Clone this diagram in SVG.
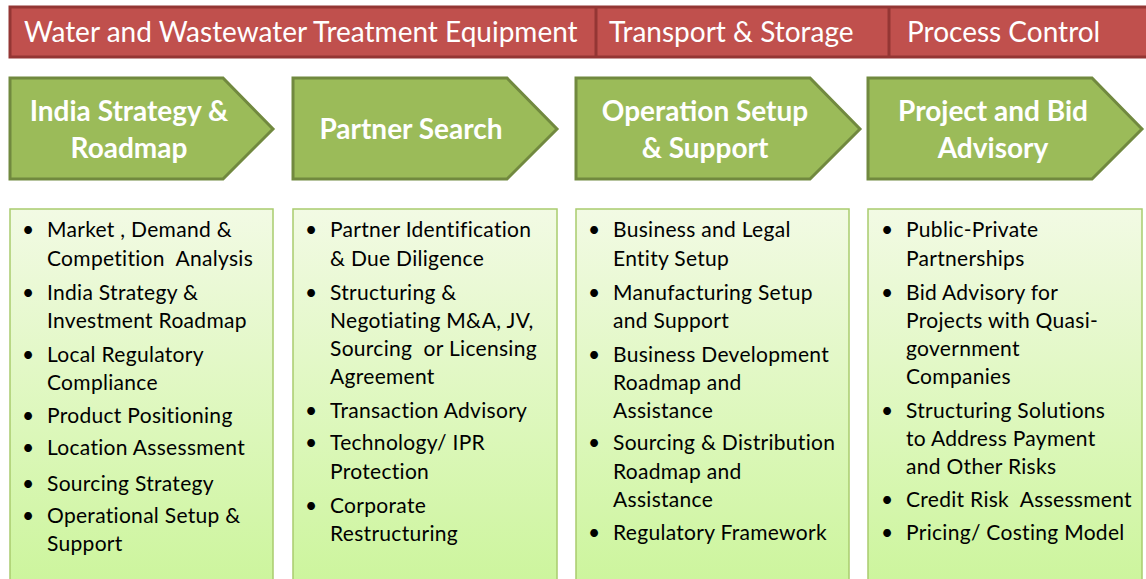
<svg xmlns="http://www.w3.org/2000/svg" width="1146" height="579" viewBox="0 0 1146 579">
<defs>
<linearGradient id="boxg" x1="0" y1="0" x2="0" y2="1">
<stop offset="0" stop-color="#F2FAE4"/>
<stop offset="1" stop-color="#CCF59C"/>
</linearGradient>
</defs>
<style>
text{white-space:pre}
.bar{fill:#C0504D;stroke:#943634;stroke-width:3}
.bt{font-family:Lato,"Liberation Sans",sans-serif;font-size:28px;fill:#fff}
.arr{fill:#9BBB59;stroke:#71893F;stroke-width:3;stroke-linejoin:miter}
.at{font-family:Lato,"Liberation Sans",sans-serif;font-size:28px;font-weight:bold;fill:#fff;text-anchor:middle}
.box{fill:url(#boxg);stroke:#A9CC6E;stroke-width:1.5}
.lt{font-family:Lato,"Liberation Sans",sans-serif;font-size:21px;letter-spacing:0.3px;fill:#000}
</style>
<g id="topbar">
<rect class="bar" x="10" y="7" width="1140" height="50"/>
<line x1="596" y1="7" x2="596" y2="57" stroke="#943634" stroke-width="3"/>
<line x1="889" y1="7" x2="889" y2="57" stroke="#943634" stroke-width="3"/>
<text class="bt" x="24" y="42">Water and Wastewater Treatment Equipment</text>
<text class="bt" x="609" y="42">Transport &amp; Storage</text>
<text class="bt" x="907" y="42">Process Control</text>
</g>
<g id="step1">
<path class="arr" d="M10,78 H223 L273,129 L223,179 H10 Z"/>
<text class="at" x="129" y="121">India Strategy &amp;</text>
<text class="at" x="129" y="158">Roadmap</text>
</g>
<g id="step2">
<path class="arr" d="M293,78 H507 L557,129 L507,179 H293 Z"/>
<text class="at" x="411" y="139">Partner Search</text>
</g>
<g id="step3">
<path class="arr" d="M576,78 H810 L860,129 L810,179 H576 Z"/>
<text class="at" x="705" y="121">Operation Setup</text>
<text class="at" x="705" y="158">&amp; Support</text>
</g>
<g id="step4">
<path class="arr" d="M868,78 H1092 L1142,129 L1092,179 H868 Z"/>
<text class="at" x="993" y="121">Project and Bid</text>
<text class="at" x="993" y="158">Advisory</text>
</g>
<g id="list1">
<rect class="box" x="10" y="209" width="263" height="380"/>
<g class="lt">
<text x="22" y="237">•</text><text x="47" y="237">Market , Demand &amp;</text>
<text x="47" y="266">Competition  Analysis</text>
<text x="22" y="300">•</text><text x="47" y="300">India Strategy &amp;</text>
<text x="47" y="328">Investment Roadmap</text>
<text x="22" y="362">•</text><text x="47" y="362">Local Regulatory</text>
<text x="47" y="390">Compliance</text>
<text x="22" y="423">•</text><text x="47" y="423">Product Positioning</text>
<text x="22" y="455">•</text><text x="47" y="455">Location Assessment</text>
<text x="22" y="491">•</text><text x="47" y="491">Sourcing Strategy</text>
<text x="22" y="523">•</text><text x="47" y="523">Operational Setup &amp;</text>
<text x="47" y="551">Support</text>
</g>
</g>
<g id="list2">
<rect class="box" x="293" y="209" width="264" height="380"/>
<g class="lt">
<text x="305" y="237">•</text><text x="330" y="237">Partner Identification</text>
<text x="330" y="266">&amp; Due Diligence</text>
<text x="305" y="300">•</text><text x="330" y="300">Structuring &amp;</text>
<text x="330" y="328">Negotiating M&amp;A, JV,</text>
<text x="330" y="356">Sourcing  or Licensing</text>
<text x="330" y="384">Agreement</text>
<text x="305" y="418">•</text><text x="330" y="418">Transaction Advisory</text>
<text x="305" y="450">•</text><text x="330" y="450">Technology/ IPR</text>
<text x="330" y="479">Protection</text>
<text x="305" y="513">•</text><text x="330" y="513">Corporate</text>
<text x="330" y="541">Restructuring</text>
</g>
</g>
<g id="list3">
<rect class="box" x="576" y="209" width="273" height="380"/>
<g class="lt">
<text x="588" y="237">•</text><text x="613" y="237">Business and Legal</text>
<text x="613" y="266">Entity Setup</text>
<text x="588" y="300">•</text><text x="613" y="300">Manufacturing Setup</text>
<text x="613" y="328">and Support</text>
<text x="588" y="362">•</text><text x="613" y="362">Business Development</text>
<text x="613" y="390">Roadmap and</text>
<text x="613" y="418">Assistance</text>
<text x="588" y="450">•</text><text x="613" y="450">Sourcing &amp; Distribution</text>
<text x="613" y="479">Roadmap and</text>
<text x="613" y="507">Assistance</text>
<text x="588" y="540">•</text><text x="613" y="540">Regulatory Framework</text>
</g>
</g>
<g id="list4">
<rect class="box" x="868" y="209" width="274" height="380"/>
<g class="lt">
<text x="881" y="237">•</text><text x="906" y="237">Public-Private</text>
<text x="906" y="266">Partnerships</text>
<text x="881" y="300">•</text><text x="906" y="300">Bid Advisory for</text>
<text x="906" y="328">Projects with Quasi-</text>
<text x="906" y="356">government</text>
<text x="906" y="384">Companies</text>
<text x="881" y="418">•</text><text x="906" y="418">Structuring Solutions</text>
<text x="906" y="446">to Address Payment</text>
<text x="906" y="474">and Other Risks</text>
<text x="881" y="507">•</text><text x="906" y="507">Credit Risk  Assessment</text>
<text x="881" y="540">•</text><text x="906" y="540">Pricing/ Costing Model</text>
</g>
</g>
<g id="connectors"></g>
</svg>
